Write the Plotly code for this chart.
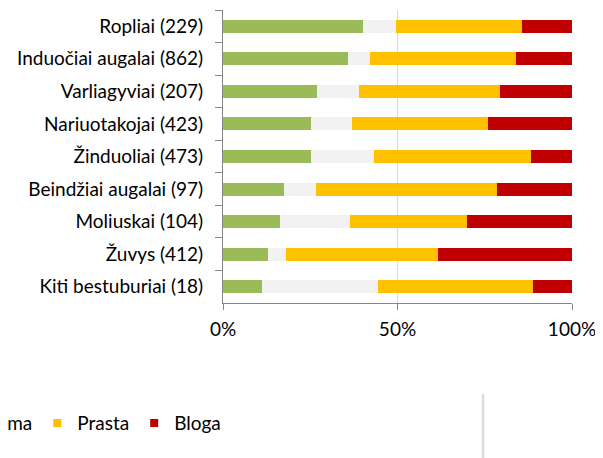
import plotly.graph_objects as go

# categories, top to bottom
categories = [
    "Ropliai (229)",
    "Induočiai augalai (862)",
    "Varliagyviai (207)",
    "Nariuotakojai (423)",
    "Žinduoliai (473)",
    "Beindžiai augalai (97)",
    "Moliuskai (104)",
    "Žuvys (412)",
    "Kiti bestuburiai (18)",
]

# shares in percent
gera = [40.1, 35.8, 27.0, 25.2, 25.2, 17.6, 16.4, 12.9, 11.1]
nezinoma = [9.5, 6.2, 12.0, 11.7, 18.1, 9.0, 20.0, 5.2, 33.3]
prasta = [36.1, 42.0, 40.3, 39.1, 45.0, 51.8, 33.6, 43.4, 44.4]
bloga = [14.3, 16.0, 20.7, 24.0, 11.7, 21.6, 30.0, 38.5, 11.2]

series = [
    ("Gera", gera, "#9BBB59"),
    ("Nežinoma", nezinoma, "#F2F2F2"),
    ("Prasta", prasta, "#FFC000"),
    ("Bloga", bloga, "#C00000"),
]

FONT = "Lato"

fig = go.Figure()
for name, vals, color in series:
    fig.add_trace(go.Bar(
        y=categories, x=vals, name=name, orientation="h",
        marker=dict(color=color, line=dict(width=0)),
        showlegend=False,
    ))
    # small square legend markers
    fig.add_trace(go.Scatter(
        x=[None], y=[None], mode="markers", name=name,
        marker=dict(symbol="square", size=8, color=color),
    ))

# page body has an 8px margin, so the figure is a bit smaller than the window
fig.update_layout(
    barmode="stack",
    bargap=0.6,
    width=595, height=450,
    margin=dict(l=215, r=31, t=2, b=155, autoexpand=False),
    plot_bgcolor="white",
    paper_bgcolor="white",
    font=dict(family=FONT, size=19, color="#000000"),
    showlegend=True,
    legend=dict(
        orientation="h", xanchor="left", yanchor="middle",
        x=-1.145, y=-0.41, font=dict(size=19),
        traceorder="normal", itemclick=False,
    ),
    shapes=[dict(
        type="line", xref="paper", yref="paper",
        x0=0.745, x1=0.745, y0=-0.31, y1=-0.6,
        line=dict(color="#DCDCDC", width=2.5),
    )],
)

fig.update_xaxes(
    range=[0, 100], tickvals=[0, 50, 100], ticktext=["0%", "50%", "100%"],
    showgrid=True, gridcolor="#D9D9D9", gridwidth=1,
    showline=True, linecolor="#868686", linewidth=1,
    ticks="outside", ticklen=6, tickcolor="#868686",
    ticklabelstandoff=3, zeroline=False,
)
fig.update_yaxes(
    categoryorder="array", categoryarray=categories, autorange="reversed",
    showline=True, linecolor="#868686", linewidth=1,
    ticks="outside", ticklen=7, tickcolor="#868686", tickson="boundaries",
    ticklabelstandoff=15, showgrid=False,
)

fig.write_html("out.html")
